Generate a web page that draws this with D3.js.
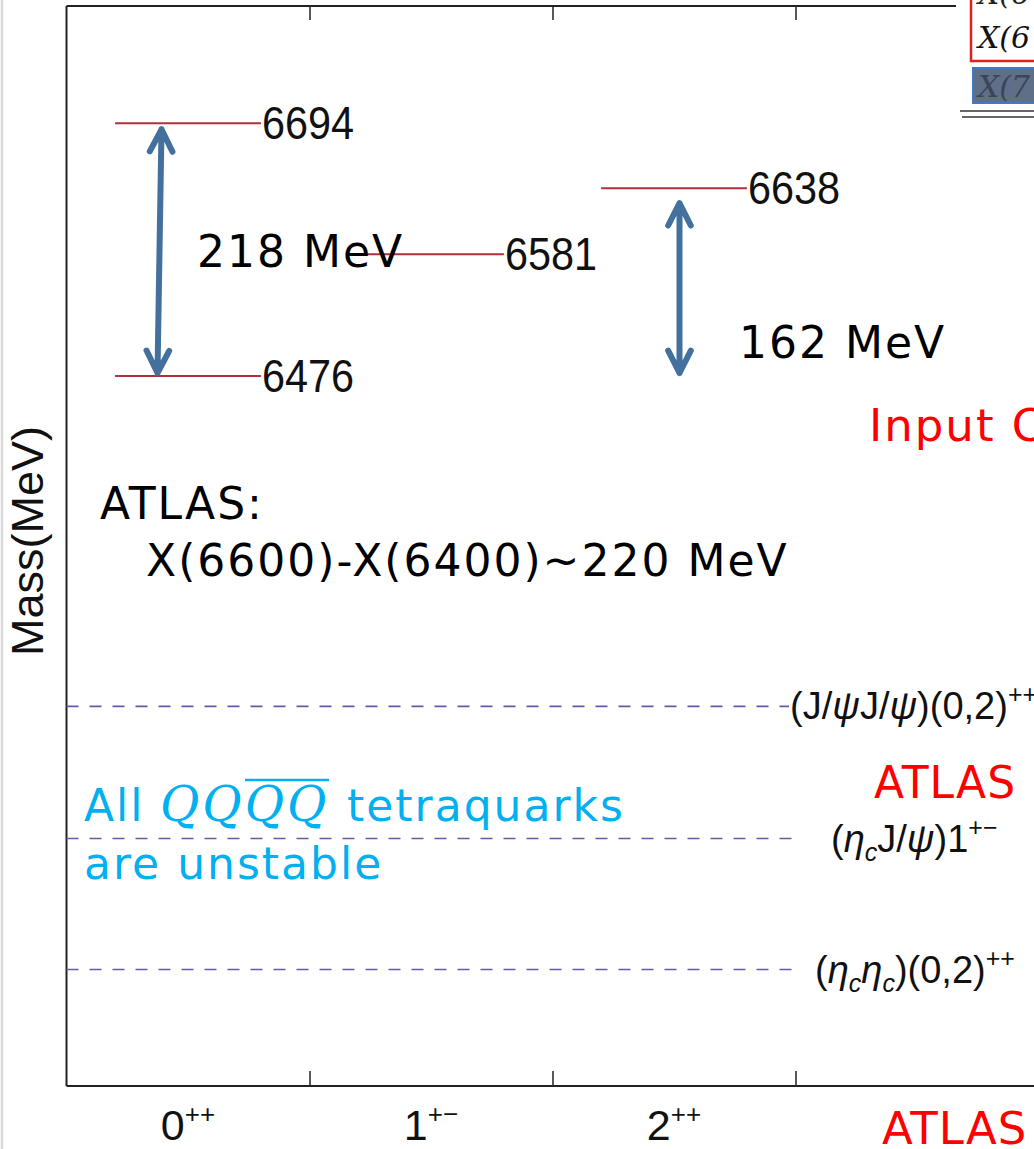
<!DOCTYPE html>
<html>
<head>
<meta charset="utf-8">
<script src="https://cdn.jsdelivr.net/npm/d3@7"></script>
<style>
  html, body { margin: 0; padding: 0; background: #fff; overflow: hidden; }
  svg { display: block; }
</style>
</head>
<body>
<svg id="chart" width="1034" height="1149"></svg>
<script>
// J^PC channels on the horizontal axis
const channelBase = ["0", "1", "2"];
const channelSup = ["++", "+\u2212", "++"];

// Predicted fully-charmed tetraquark masses (MeV) and their channel index
const levelChannel = [1, 1, 2, 3];
const levelMass = [6694, 6476, 6581, 6638];

// Di-charmonium thresholds (MeV)
const thresholdMass = [6191, 6077, 5964];

// Mass splittings marked with double arrows
const splitChannel = [1, 3];
const splitUpper = [6694, 6638];
const splitLower = [6476, 6476];
const splitLabel = ["218 MeV", "162 MeV"];

const svg = d3.select("#chart");
const W = 1034, H = 1149;
const plot = { left: 66.5, top: 6, bottom: 1086 };

const x = d3.scaleLinear().domain([0.5, 3.5]).range([plot.left, 795.5]);
const y = d3.scaleLinear().domain([5863.5, 6795.2]).range([plot.bottom, plot.top]);

const SANS = "'Liberation Sans', Arial, sans-serif";
const SLIDE = "'DejaVu Sans', Verdana, sans-serif";

svg.append("rect").attr("width", W).attr("height", H).attr("fill", "#fff");
// slide edge
svg.append("line").attr("x1", 2).attr("x2", 2).attr("y1", 0).attr("y2", H)
  .attr("stroke", "#d9d9d9").attr("stroke-width", 2.5);

// frame: axes with inward ticks at the channel boundaries
const tickVals = [1.5, 2.5, 3.5];
const xBottom = d3.axisBottom(x).tickValues(tickVals).tickSize(-15).tickFormat("").tickSizeOuter(0);
const xTop = d3.axisTop(x).tickValues(tickVals).tickSize(-14).tickFormat("").tickSizeOuter(0);

const gB = svg.append("g").attr("transform", `translate(0,${plot.bottom})`).call(xBottom);
gB.select(".domain").remove();
gB.selectAll(".tick line").attr("stroke", "#222").attr("stroke-width", 1.5);
svg.append("line").attr("x1", plot.left).attr("x2", W).attr("y1", plot.bottom).attr("y2", plot.bottom)
  .attr("stroke", "#222").attr("stroke-width", 2);

const gT = svg.append("g").attr("transform", `translate(0,${plot.top})`).call(xTop);
gT.select(".domain").remove();
gT.selectAll(".tick line").attr("stroke", "#222").attr("stroke-width", 1.5);
svg.append("line").attr("x1", plot.left).attr("x2", W).attr("y1", plot.top).attr("y2", plot.top)
  .attr("stroke", "#222").attr("stroke-width", 2);

svg.append("line").attr("x1", plot.left).attr("x2", plot.left).attr("y1", plot.top).attr("y2", plot.bottom)
  .attr("stroke", "#222").attr("stroke-width", 2);

// channel labels
channelBase.forEach((b, i) => {
  const t = svg.append("text").attr("x", x(i + 1)).attr("y", 1140)
    .attr("text-anchor", "middle").attr("font-family", SANS).attr("font-size", 43).attr("fill", "#111");
  t.append("tspan").text(b);
  t.append("tspan").attr("font-size", 26).attr("dy", -17).text(channelSup[i]);
});

// y-axis title
svg.append("text").attr("transform", "translate(43,541) rotate(-90)")
  .attr("text-anchor", "middle").attr("font-family", SANS).attr("font-size", 45).attr("fill", "#111")
  .text("Mass(MeV)");

// thresholds
const thrLabel = [
  [["(J/", 0], ["\u03c8", 0, "italic"], ["J/", 0], ["\u03c8", 0, "italic"], [")(0,2)", 0], ["++", -1]],
  [["(", 0], ["\u03b7", 0, "italic"], ["c", 1, "italic"], ["J/", 0], ["\u03c8", 0, "italic"], [")1", 0], ["+\u2212", -1]],
  [["(", 0], ["\u03b7", 0, "italic"], ["c", 1, "italic"], ["\u03b7", 0, "italic"], ["c", 1, "italic"], [")(0,2)", 0], ["++", -1]]
];
const thrLabelX = [790, 831, 815];

svg.append("g").selectAll("line").data(thresholdMass).join("line")
  .attr("x1", x(0.5)).attr("x2", (d, i) => i === 0 ? 789 : x(3.5))
  .attr("y1", d => y(d)).attr("y2", d => y(d))
  .attr("stroke", "#6459aa").attr("stroke-width", 1.6).attr("stroke-dasharray", "12,11");

thresholdMass.forEach((m, i) => {
  const t = svg.append("text").attr("x", thrLabelX[i]).attr("y", y(m) + 13)
    .attr("font-family", SANS).attr("font-size", 38).attr("fill", "#111");
  let shift = 0;
  thrLabel[i].forEach(([s, pos, style]) => {
    const ts = t.append("tspan").text(s);
    if (style) ts.attr("font-style", style);
    const target = pos === 1 ? 9 : pos === -1 ? -16 : 0;
    if (pos !== 0) ts.attr("font-size", 25);
    ts.attr("dy", target - shift);
    shift = target;
  });
});

// predicted levels
const halfW = 0.3;
svg.append("g").selectAll("line").data(levelMass).join("line")
  .attr("x1", (d, i) => x(levelChannel[i] - halfW))
  .attr("x2", (d, i) => x(levelChannel[i] + halfW))
  .attr("y1", d => y(d)).attr("y2", d => y(d))
  .attr("stroke", "#b0303a").attr("stroke-width", 2);

// splitting labels (drawn over the 1+- level line)
const splitLabelPos = [[197, 267], [739, 358]];
splitLabel.forEach((s, i) => {
  svg.append("text").attr("x", splitLabelPos[i][0]).attr("y", splitLabelPos[i][1])
    .attr("font-family", SLIDE).attr("font-size", 44).attr("letter-spacing", 2).attr("fill", "#000")
    .text(s);
});

levelMass.forEach((m, i) => {
  const lx = x(levelChannel[i] + halfW) + 1;
  svg.append("text").attr("transform", `translate(${lx},${y(m) + 16}) scale(0.9,1)`)
    .attr("font-family", SANS).attr("font-size", 46).attr("fill", "#111")
    .text(m);
});

// double arrows for the splittings
const arrowDx = [[-26.5, -30.5], [5.5, 5.5]];
const arrowGap = [[6, 3], [15, 3]];
splitChannel.forEach((c, i) => {
  const x1 = x(c) + arrowDx[i][0], y1 = y(splitUpper[i]) + arrowGap[i][0];
  const x2 = x(c) + arrowDx[i][1], y2 = y(splitLower[i]) - arrowGap[i][1];
  const ang = Math.atan2(y2 - y1, x2 - x1);
  const head = (px, py, a) => {
    const L = 25, spread = 0.47;
    return `M${px + L * Math.cos(a + spread)},${py + L * Math.sin(a + spread)}L${px},${py}L${px + L * Math.cos(a - spread)},${py + L * Math.sin(a - spread)}`;
  };
  const d = `M${x1},${y1}L${x2},${y2}` + head(x1, y1, ang) + head(x2, y2, ang + Math.PI);
  svg.append("path").attr("d", d).attr("fill", "none")
    .attr("stroke", "#43709d").attr("stroke-width", 6)
    .attr("stroke-linecap", "round").attr("stroke-linejoin", "round");
});

// slide annotations
svg.append("text").attr("x", 100).attr("y", 519)
  .attr("font-family", SLIDE).attr("font-size", 44).attr("letter-spacing", 2).attr("fill", "#000")
  .text("ATLAS:");
svg.append("text").attr("x", 146).attr("y", 576)
  .attr("font-family", SLIDE).attr("font-size", 44).attr("letter-spacing", 2).attr("fill", "#000")
  .text("X(6600)-X(6400)~220 MeV");

const red = "#ff0000";
svg.append("text").attr("x", 869).attr("y", 441)
  .attr("font-family", SLIDE).attr("font-size", 45).attr("letter-spacing", 2).attr("fill", red)
  .text("Input C");
svg.append("text").attr("x", 874).attr("y", 798)
  .attr("font-family", SLIDE).attr("font-size", 44).attr("letter-spacing", 1).attr("fill", red)
  .text("ATLAS");
svg.append("text").attr("x", 882).attr("y", 1144)
  .attr("font-family", SLIDE).attr("font-size", 45).attr("letter-spacing", 1).attr("fill", red)
  .text("ATLAS");

const cyan = "#00b0f0";
svg.append("text").attr("x", 84).attr("y", 821)
  .attr("font-family", SLIDE).attr("font-size", 44).attr("letter-spacing", 2).attr("fill", cyan)
  .text("All");
svg.append("text").attr("x", 160).attr("y", 821)
  .attr("font-family", "'DejaVu Serif', serif").attr("font-style", "italic")
  .attr("font-size", 48).attr("letter-spacing", 3).attr("fill", cyan)
  .text("QQQQ");
svg.append("line").attr("x1", 245).attr("x2", 329).attr("y1", 780).attr("y2", 780)
  .attr("stroke", cyan).attr("stroke-width", 2.5);
svg.append("text").attr("x", 347).attr("y", 821)
  .attr("font-family", SLIDE).attr("font-size", 44).attr("letter-spacing", 2).attr("fill", cyan)
  .text("tetraquarks");
svg.append("text").attr("x", 84).attr("y", 879)
  .attr("font-family", SLIDE).attr("font-size", 44).attr("letter-spacing", 2).attr("fill", cyan)
  .text("are unstable");

// corner of the fitted-state table
const tbl = svg.append("g");
tbl.append("rect").attr("x", 956).attr("y", 0).attr("width", 80).attr("height", 122).attr("fill", "#fff");
tbl.append("rect").attr("x", 971).attr("y", -10).attr("width", 80).attr("height", 71)
  .attr("fill", "#fff").attr("stroke", "#e02020").attr("stroke-width", 2.5);
tbl.append("text").attr("x", 978).attr("y", 4)
  .attr("font-family", "'DejaVu Serif', serif").attr("font-style", "italic").attr("font-size", 30).attr("fill", "#222")
  .text("X(6");
tbl.append("text").attr("x", 978).attr("y", 48)
  .attr("font-family", "'DejaVu Serif', serif").attr("font-style", "italic").attr("font-size", 30).attr("fill", "#111")
  .text("X(6");
tbl.append("rect").attr("x", 973).attr("y", 68).attr("width", 70).attr("height", 35)
  .attr("fill", "#5f6f88").attr("stroke", "#3d7cc4").attr("stroke-width", 2);
tbl.append("text").attr("x", 978).attr("y", 97)
  .attr("font-family", "'DejaVu Serif', serif").attr("font-style", "italic").attr("font-size", 30).attr("fill", "#3a4556")
  .text("X(7");
tbl.append("line").attr("x1", 960).attr("x2", W).attr("y1", 111).attr("y2", 111).attr("stroke", "#333").attr("stroke-width", 1.5);
tbl.append("line").attr("x1", 962).attr("x2", W).attr("y1", 117).attr("y2", 117).attr("stroke", "#333").attr("stroke-width", 1.5);
</script>
</body>
</html>
